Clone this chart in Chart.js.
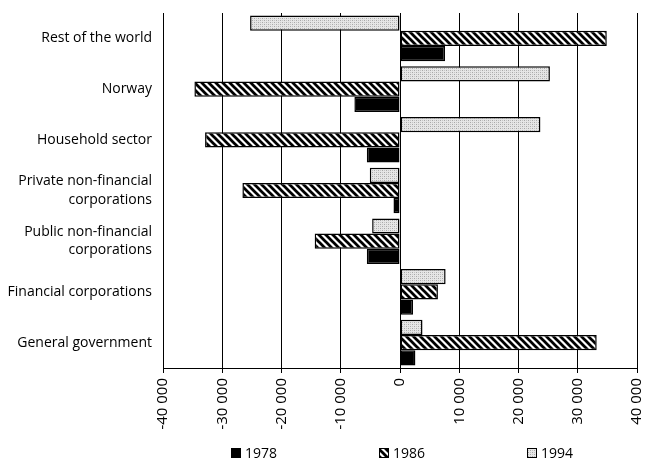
<!DOCTYPE html>
<html>
<head>
<meta charset="utf-8">
<script src="https://cdn.jsdelivr.net/npm/chart.js@4/dist/chart.umd.min.js"></script>
<style>
  html, body { margin: 0; padding: 0; background: #fff; }
  #wrap { width: 652px; height: 467px; position: relative; }
</style>
</head>
<body>
<div id="wrap"><canvas id="c" width="652" height="467"></canvas></div>
<script>
const categories = [
  ['Rest of the world'],
  ['Norway'],
  ['Household sector'],
  ['Private non-financial', 'corporations'],
  ['Public non-financial', 'corporations'],
  ['Financial corporations'],
  ['General government']
];
const seriesNames = ['1978', '1986', '1994'];
const values1978 = [7600, -7700, -5600, -1100, -5600, 2200, 2600];
const values1986 = [34900, -34700, -32900, -26600, -14400, 6400, 33200];
const values1994 = [-25300, 25300, 23700, -5100, -4700, 7700, 3800];
const xMin = -40000, xMax = 40000, xStep = 10000;

function fmt(v) {
  return String(v).replace(/\B(?=(\d{3})+(?!\d))/g, ' ');
}

function hatchPattern() {
  const c = document.createElement('canvas');
  c.width = 7; c.height = 7;
  const g = c.getContext('2d');
  g.fillStyle = '#fff'; g.fillRect(0, 0, 7, 7);
  g.strokeStyle = '#000'; g.lineWidth = 2.7;
  for (const k of [-7, 0, 7]) {
    g.beginPath(); g.moveTo(k - 1, -1); g.lineTo(k + 8, 8); g.stroke();
  }
  return g.createPattern(c, 'repeat');
}
function dotPattern() {
  const c = document.createElement('canvas');
  c.width = 4; c.height = 4;
  const g = c.getContext('2d');
  g.fillStyle = '#e6e6e6'; g.fillRect(0, 0, 4, 4);
  g.fillStyle = '#a8a8a8';
  g.fillRect(0, 0, 1, 1); g.fillRect(2, 2, 1, 1);
  g.fillStyle = '#c4c4c4';
  g.fillRect(2, 0, 1, 1); g.fillRect(0, 2, 1, 1);
  return g.createPattern(c, 'repeat');
}
const fills = { '1978': '#000000', '1986': hatchPattern(), '1994': dotPattern() };

const FONT = "'Open Sans', 'Liberation Sans', sans-serif";

const legendPlugin = {
  id: 'customLegend',
  afterDraw(chart) {
    const ctx = chart.ctx;
    const boxX = [231, 379, 527];
    const y = 453;
    ctx.save();
    ctx.font = '14px ' + FONT;
    ctx.textBaseline = 'middle';
    ctx.fillStyle = '#000';
    seriesNames.forEach((name, i) => {
      ctx.fillStyle = fills[name];
      ctx.fillRect(boxX[i], y - 5, 10, 10);
      ctx.strokeStyle = '#000';
      ctx.lineWidth = 1;
      ctx.strokeRect(boxX[i] + 0.5, y - 4.5, 9, 9);
      ctx.fillStyle = '#000';
      ctx.fillText(name, boxX[i] + 14, y + 1);
    });
    ctx.restore();
  }
};

new Chart(document.getElementById('c'), {
  type: 'bar',
  data: {
    labels: categories,
    datasets: [
      { label: '1994', data: values1994, backgroundColor: fills['1994'] },
      { label: '1986', data: values1986, backgroundColor: fills['1986'] },
      { label: '1978', data: values1978, backgroundColor: fills['1978'] }
    ].map(d => Object.assign(d, {
      borderColor: '#000', borderWidth: 1.5, borderSkipped: false,
      categoryPercentage: 0.9, barPercentage: 1.0
    }))
  },
  options: {
    indexAxis: 'y',
    responsive: false,
    animation: false,
    devicePixelRatio: 1,
    layout: { padding: { top: 13, right: 15, left: 0, bottom: 0 } },
    plugins: { legend: { display: false }, tooltip: { enabled: false } },
    scales: {
      x: {
        min: xMin, max: xMax,
        ticks: {
          stepSize: xStep, maxRotation: 90, minRotation: 90,
          color: '#000', font: { family: FONT, size: 15 }, padding: 5,
          callback: (v) => fmt(v)
        },
        grid: { color: '#000', lineWidth: 1, tickLength: 5, drawTicks: true },
        border: { display: true, color: '#000', width: 1 },
        afterFit: (s) => { s.height = 99; s.paddingLeft = 0; s.paddingRight = 0; }
      },
      y: {
        ticks: {
          color: '#000', font: { family: FONT, size: 14, lineHeight: 1.3 }, padding: 11
        },
        grid: { display: false, drawTicks: false },
        border: { display: true, color: '#000', width: 1 },
        afterFit: (s) => { s.width = 163; s.paddingTop = 0; s.paddingBottom = 0; }
      }
    }
  },
  plugins: [legendPlugin]
});
</script>
</body>
</html>
